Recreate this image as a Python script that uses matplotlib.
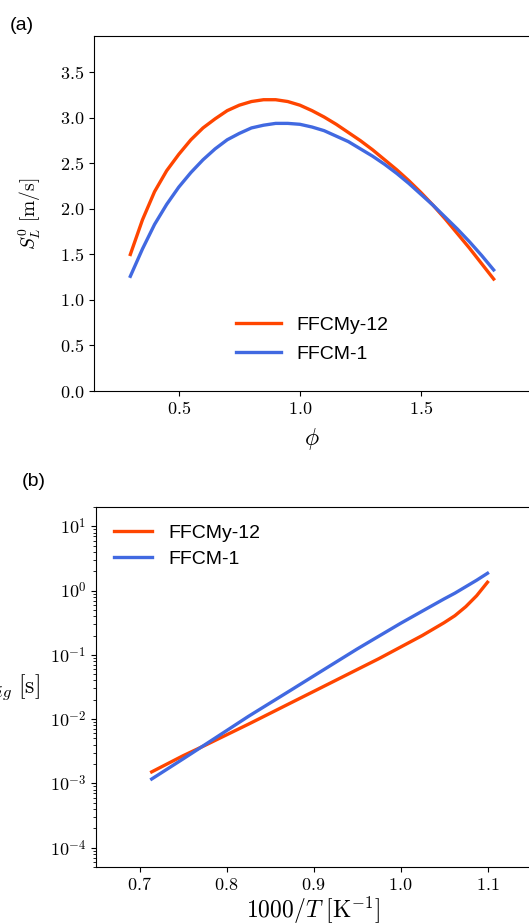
import numpy as np
import matplotlib
matplotlib.use("Agg")
import matplotlib.pyplot as plt
from matplotlib.ticker import FuncFormatter, LogLocator

plt.rcParams['mathtext.fontset'] = 'cm'
plt.rcParams['font.family'] = ['Liberation Sans', 'DejaVu Sans']

# ---- data (a): laminar flame speed ----
phi = [0.3, 0.35, 0.4, 0.45, 0.5, 0.55, 0.6, 0.65, 0.7, 0.75, 0.8, 0.85, 0.9, 0.95, 1.0,
       1.05, 1.1, 1.15, 1.2, 1.25, 1.3, 1.35, 1.4, 1.45, 1.5, 1.55, 1.6, 1.65, 1.7, 1.75, 1.8]
sl_ffcmy12 = [1.50, 1.88, 2.19, 2.42, 2.60, 2.76, 2.89, 2.99, 3.08, 3.14, 3.18, 3.20, 3.20, 3.18, 3.14,
              3.08, 3.01, 2.93, 2.84, 2.75, 2.65, 2.54, 2.43, 2.31, 2.18, 2.04, 1.89, 1.73, 1.57, 1.40, 1.23]
sl_ffcm1 = [1.26, 1.56, 1.83, 2.05, 2.24, 2.40, 2.54, 2.66, 2.76, 2.83, 2.89, 2.92, 2.94, 2.94, 2.93,
            2.90, 2.86, 2.80, 2.74, 2.66, 2.58, 2.49, 2.39, 2.28, 2.16, 2.04, 1.91, 1.78, 1.64, 1.49, 1.33]

# ---- data (b): ignition delay ----
inv_T = [0.714, 0.75, 0.775, 0.8, 0.825, 0.85, 0.875, 0.9, 0.925, 0.95, 0.975, 1.0,
         1.025, 1.05, 1.0625, 1.075, 1.0875, 1.1]
tau_ffcmy12 = [1.51e-3, 2.69e-3, 3.89e-3, 5.69e-3, 8.32e-3, 1.23e-2, 1.82e-2, 2.69e-2, 3.98e-2,
               5.89e-2, 8.71e-2, 0.132, 0.200, 0.316, 0.407, 0.562, 0.832, 1.35]
tau_ffcm1 = [1.17e-3, 2.40e-3, 3.98e-3, 6.61e-3, 1.10e-2, 1.78e-2, 2.88e-2, 4.68e-2, 7.59e-2,
             0.123, 0.195, 0.309, 0.479, 0.741, 0.912, 1.15, 1.45, 1.86]

labels = ['FFCMy-12', 'FFCM-1']
colors = ['#ff4500', '#4169e1']

fig = plt.figure(figsize=(5.29, 9.23), dpi=100)
W, H = 529, 923

def box(l, t, r, b):
    return [l / W, 1 - b / H, (r - l) / W, (b - t) / H]

ax1 = fig.add_axes(box(94, 36, 530, 391))
ax2 = fig.add_axes(box(96, 507, 531, 867))

mfmt = FuncFormatter(lambda v, p: f"${v:.1f}$")
lfmt = FuncFormatter(lambda v, p: f"$10^{{{int(round(np.log10(v)))}}}$")

# (a)
ax1.plot(phi, sl_ffcmy12, color=colors[0], lw=2.4, label=labels[0])
ax1.plot(phi, sl_ffcm1, color=colors[1], lw=2.4, label=labels[1])
ax1.set_xlim(0.15, 1.95)
ax1.set_ylim(0, 3.9)
ax1.set_xticks([0.5, 1.0, 1.5])
ax1.set_yticks([0.0, 0.5, 1.0, 1.5, 2.0, 2.5, 3.0, 3.5])
ax1.xaxis.set_major_formatter(mfmt)
ax1.yaxis.set_major_formatter(mfmt)
ax1.tick_params(labelsize=13)
ax1.set_xlabel(r"$\phi$", fontsize=17, labelpad=6)
ax1.set_ylabel(r"$S_L^0\ [\mathrm{m/s}]$", fontsize=14, labelpad=12)
ax1.legend(loc='lower center', bbox_to_anchor=(0.5, 0.03), frameon=False,
           fontsize=14, handlelength=2.3, labelspacing=0.6)
fig.text(10 / W, 1 - 30 / H, "(a)", fontsize=14)

# (b)
ax2.semilogy(inv_T, tau_ffcmy12, color=colors[0], lw=2.4, label=labels[0])
ax2.semilogy(inv_T, tau_ffcm1, color=colors[1], lw=2.4, label=labels[1])
ax2.set_xlim(0.65, 1.15)
ax2.set_ylim(5e-5, 20)
ax2.set_xticks([0.7, 0.8, 0.9, 1.0, 1.1])
ax2.xaxis.set_major_formatter(mfmt)
ax2.yaxis.set_major_locator(LogLocator(base=10, numticks=10))
ax2.yaxis.set_major_formatter(lfmt)
ax2.tick_params(labelsize=13)
ax2.set_xlabel(r"$1000/T\ [\mathrm{K}^{-1}]$", fontsize=17, labelpad=1)
ax2.set_ylabel(r"$\tau_{ig}\ [\mathrm{s}]$", fontsize=17, rotation=0, ha='right', va='center')
ax2.yaxis.set_label_coords(-0.128, 0.5)
ax2.legend(loc='upper left', frameon=False, fontsize=14, handlelength=2.0, labelspacing=0.4)
fig.text(22 / W, 1 - 486 / H, "(b)", fontsize=14)

fig.savefig("out.png", dpi=100)
